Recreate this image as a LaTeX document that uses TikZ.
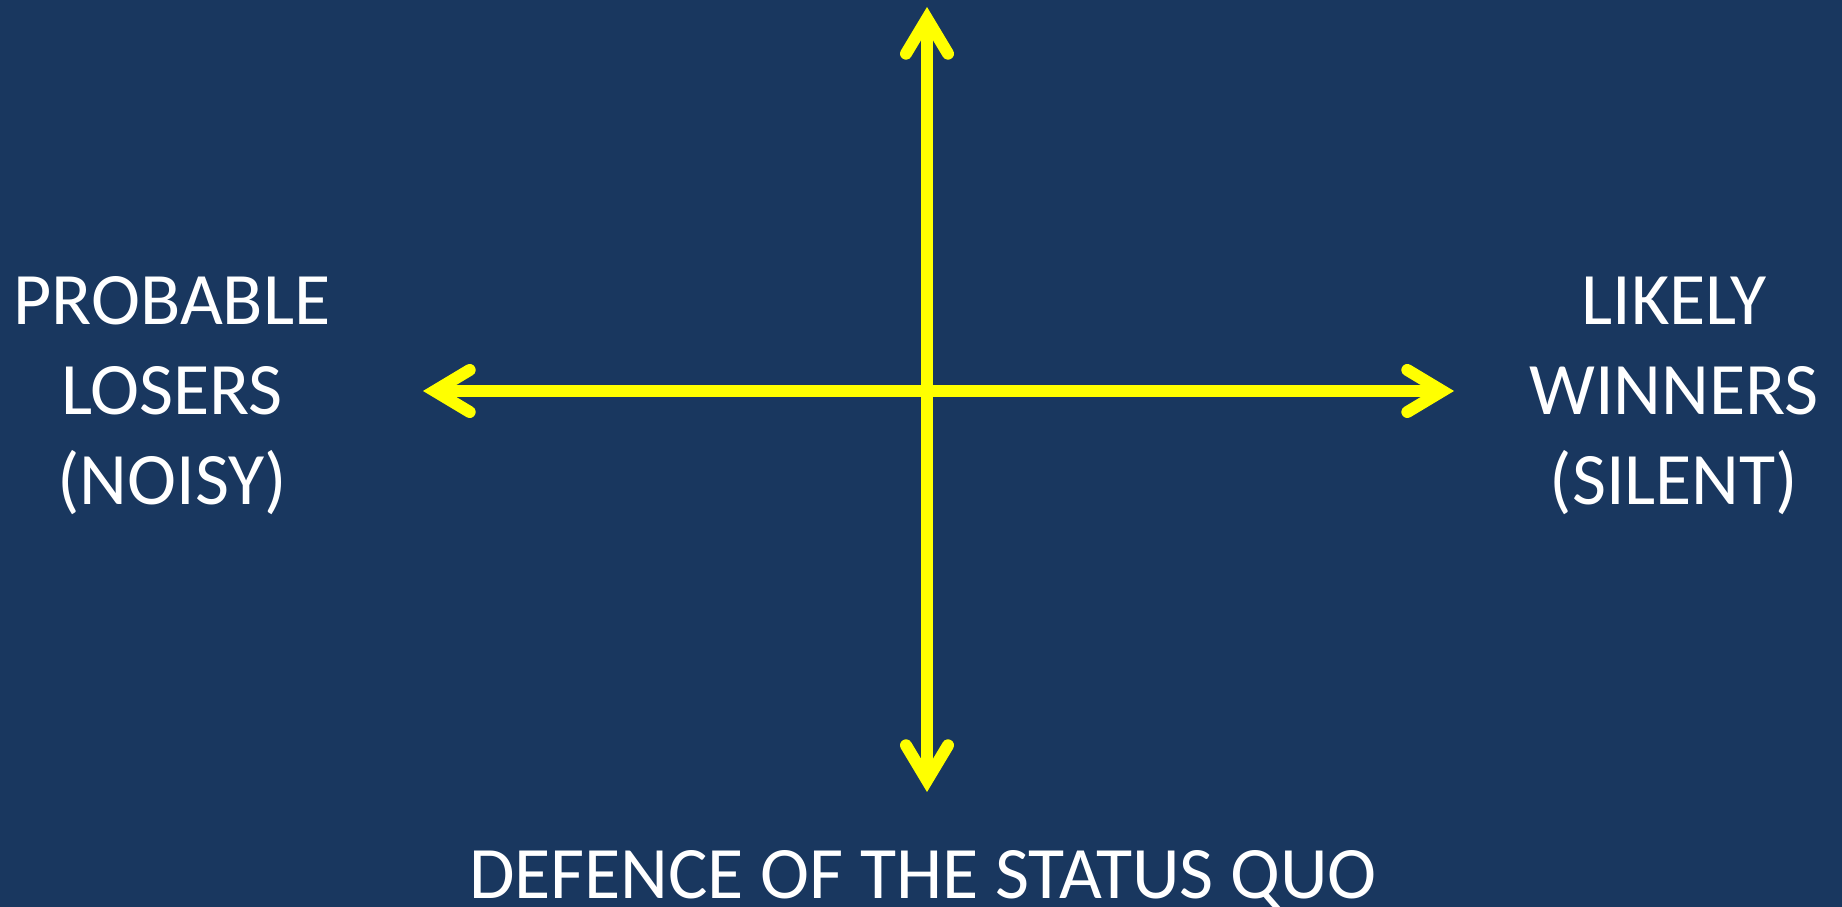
\documentclass[tikz,border=0pt]{standalone}
\usepackage{fontspec}
\setmainfont{Carlito}
\usetikzlibrary{arrows.meta}
\definecolor{bgnavy}{RGB}{25,55,95}
\definecolor{axisyellow}{RGB}{255,255,0}
\tikzset{
  axisline/.style={draw=axisyellow, line width=12pt,
    {Straight Barb[length=35pt,width=42pt,line cap=round,line join=miter]}-{Straight Barb[length=35pt,width=42pt,line cap=round,line join=miter]}},
  label/.style={text=white, font=\fontsize{74}{90}\selectfont, align=center, inner sep=0pt, anchor=base}
}
\begin{document}
\begin{tikzpicture}[x=1pt,y=1pt]
\fill[bgnavy] (0,0) rectangle (1842,907);
\useasboundingbox (0,0) rectangle (1842,907);
\coordinate (top) at (927,900);
\coordinate (bottom) at (927,115);
\coordinate (left) at (423,516);
\coordinate (right) at (1454,516);
\draw[axisline] (left) -- (right);
\draw[axisline] (bottom) -- (top);
\node[label] (losers) at (172,402) {PROBABLE\\LOSERS\\(NOISY)};
\node[label] (winners) at (1674,402) {LIKELY\\WINNERS\\(SILENT)};
\node[label] (status) at (923,8) {DEFENCE OF THE STATUS QUO};
\end{tikzpicture}
\end{document}
